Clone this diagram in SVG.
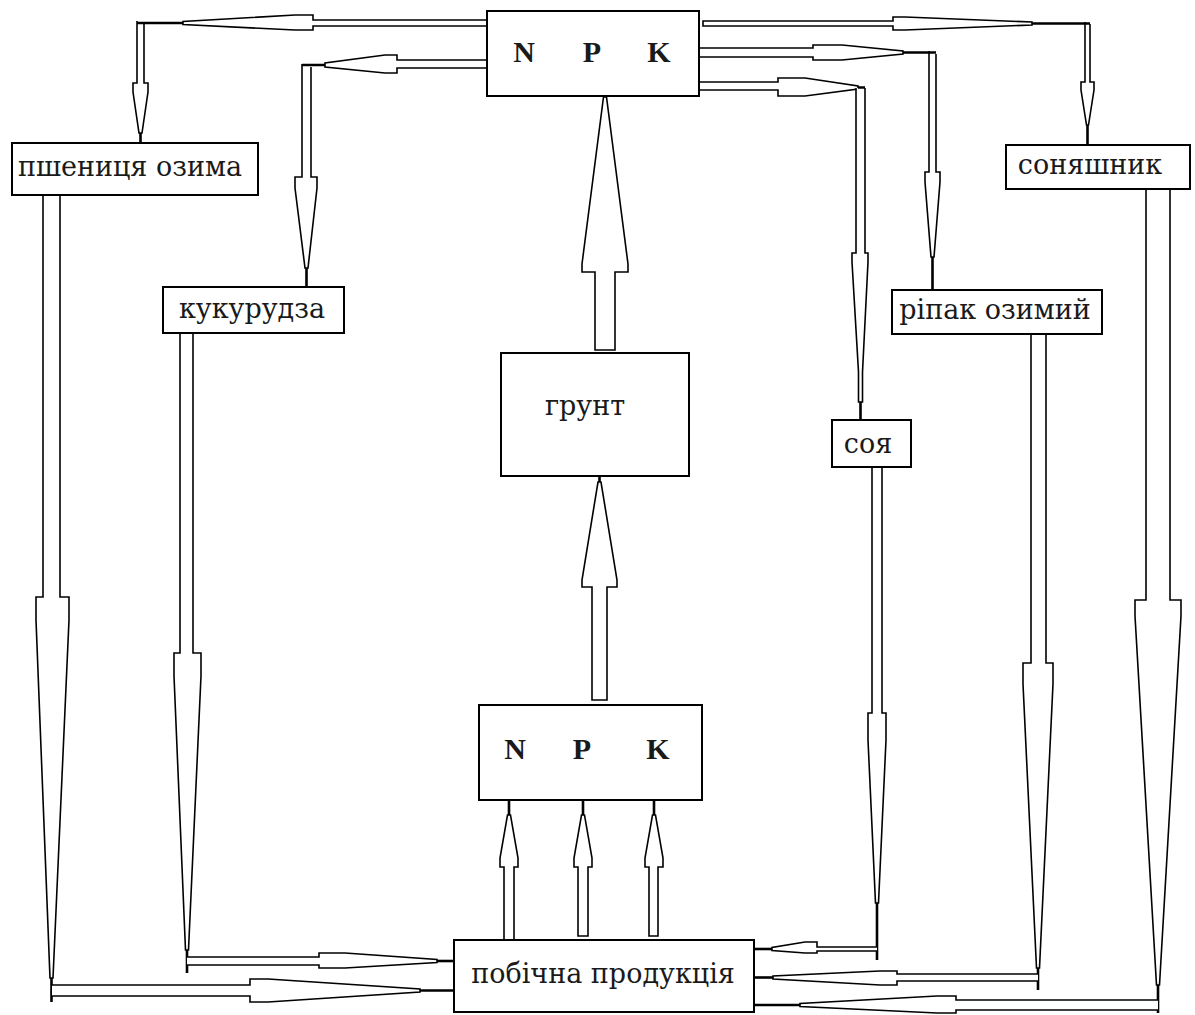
<svg xmlns="http://www.w3.org/2000/svg" width="1195" height="1015" viewBox="0 0 1195 1015">
<style>
.box{fill:#fff;stroke:#000;stroke-width:2}
.ar{fill:#fff;stroke:#000;stroke-width:1.6;stroke-linejoin:miter}
.tl{stroke:#000;stroke-width:2.6;fill:none}
.lb{font-family:"DejaVu Serif","Liberation Serif",serif;font-size:27px;fill:#1a1a1a;text-anchor:middle}
.el{font-family:"Liberation Serif","DejaVu Serif",serif;font-size:30px;font-weight:bold;fill:#1a1a1a;text-anchor:middle}
</style>
<rect width="1195" height="1015" fill="#fff"/>
<g id="connectors">
<!-- NPK top -> пшениця озима -->
<path class="ar" d="M487 20 H313 V15 H295 L183 21.5 V24.5 L295 30 H313 V26 H487"/>
<path class="ar" d="M137 21 V83 H133 V92 L139 133 H142 L148 92 V83 H144 V24"/>
<path class="tl" d="M183 23 H137 M140.5 133 V143"/>
<!-- NPK top -> кукурудза -->
<path class="ar" d="M487 60 H397 V55 H385 L325 63 V67 L385 73 H397 V68 H487"/>
<path class="ar" d="M302 64 V177 H295 V188 L305 268 H308 L317 188 V177 H311 V67"/>
<path class="tl" d="M325 65 H302 M306.5 268 V287"/>
<!-- NPK top -> соняшник -->
<path class="ar" d="M893 21 H703 V26 H893 V30 H905 L1032 25 V22 L905 17 H893 Z"/>
<path class="ar" d="M1085 22 V82 H1081 V90 L1086.5 125 H1088.5 L1094 90 V82 H1090 V24"/>
<path class="tl" d="M1032 23.5 H1090 M1087.5 125 V145"/>
<!-- NPK top -> ріпак озимий -->
<path class="ar" d="M699 48 H813 V45 H842 L903 51 V54 L842 60 H813 V57 H699"/>
<path class="ar" d="M929 51 V172 H925 V182 L931 257 H934 L940 182 V172 H936 V54"/>
<path class="tl" d="M903 52.5 H936 M932.5 257 V290"/>
<!-- NPK top -> соя -->
<path class="ar" d="M699 82 H778 V78 H805 L858 86 V89 L805 96 H778 V90 H699"/>
<path class="ar" d="M856 88 V253 H852 V262 L858.5 372 V402 H862.5 V372 L868 262 V253 H865 V88"/>
<path class="tl" d="M858 87.5 H865 M860.5 402 V420"/>
<!-- грунт -> NPK top -->
<path class="ar" d="M595 350 V272 H582 V264 L603.5 97 H606.5 L628 264 V272 H615 V350 Z"/>
<!-- NPK bottom -> грунт -->
<path class="ar" d="M592 700 V587 H582 V580 L598 482 H601 L617 580 V587 H607 V700 Z"/>
<path class="tl" d="M599.5 482 V476"/>
<!-- побічна продукція -> NPK bottom -->
<path class="ar" d="M504 940 V867 H500 V858 L507.5 815 H510.5 L518 858 V867 H514 V940"/>
<path class="ar" d="M578 936 V867 H574 V858 L581.5 815 H584.5 L592 858 V867 H588 V936 Z"/>
<path class="ar" d="M649 936 V867 H645 V858 L652.5 815 H655.5 L663 858 V867 H658 V936 Z"/>
<path class="tl" d="M509 815 V800 M583 815 V800 M654 815 V800"/>
<!-- пшениця озима -> побічна продукція -->
<path class="ar" d="M43 195 V597 H36 V620 L50 978 H53 L69 620 V597 H60 V195"/>
<path class="tl" d="M51.5 978 V1002"/>
<path class="ar" d="M52 985 H250 V979 H268 L420 989 V992 L268 1002 H250 V996 H52"/>
<path class="tl" d="M420 990.5 H454"/>
<!-- кукурудза -> побічна продукція -->
<path class="ar" d="M180 333 V653 H174 V676 L185.5 950 H188.5 L201 676 V653 H193 V333"/>
<path class="tl" d="M187 950 V973"/>
<path class="ar" d="M187 957 H319 V953 H345 L437 959.5 V962.5 L345 968 H319 V965 H187"/>
<path class="tl" d="M437 961 H454"/>
<!-- соя -> побічна продукція -->
<path class="ar" d="M872 467 V713 H868 V740 L875.5 903 H878.5 L886 740 V713 H882 V467"/>
<path class="tl" d="M877 903 V960"/>
<path class="ar" d="M877 947 H817 V942 H805 L772 947.5 V950.5 L805 953 H817 V951 H877"/>
<path class="tl" d="M772 949 H754"/>
<!-- ріпак озимий -> побічна продукція -->
<path class="ar" d="M1031 334 V663 H1023 V684 L1036.5 968 H1039.5 L1053 684 V663 H1046 V334"/>
<path class="tl" d="M1038 968 V990"/>
<path class="ar" d="M1038 974 H897 V971 H880 L773 976 V979 L880 985 H897 V981 H1038"/>
<path class="tl" d="M773 977.5 H754"/>
<!-- соняшник -> побічна продукція -->
<path class="ar" d="M1146 189 V600 H1135 V616 L1156.5 985 H1159.5 L1181 616 V600 H1170 V189"/>
<path class="tl" d="M1158 985 V1013"/>
<path class="ar" d="M1158 1000 H956 V996 H937 L800 1003.5 V1006.5 L937 1013 H956 V1010 H1158"/>
<path class="tl" d="M800 1005 H754"/>
</g>
<g id="npk-top">
<rect class="box" x="487" y="11" width="212" height="85"/>
<text class="el" x="524" y="62">N</text>
<text class="el" x="592" y="62">P</text>
<text class="el" x="659" y="62">K</text>
</g>
<g id="pshenytsia">
<rect class="box" x="12" y="143" width="246" height="52"/>
<text class="lb" x="130" y="176">пшениця озима</text>
</g>
<g id="kukurudza">
<rect class="box" x="163" y="287" width="181" height="46"/>
<text class="lb" x="252" y="318">кукурудза</text>
</g>
<g id="grunt">
<rect class="box" x="501" y="353" width="188" height="123"/>
<text class="lb" x="585" y="415">грунт</text>
</g>
<g id="soya">
<rect class="box" x="832" y="420" width="79" height="47"/>
<text class="lb" x="868" y="453">соя</text>
</g>
<g id="ripak">
<rect class="box" x="892" y="290" width="210" height="44"/>
<text class="lb" x="995" y="319">ріпак озимий</text>
</g>
<g id="sonyashnyk">
<rect class="box" x="1006" y="145" width="184" height="44"/>
<text class="lb" x="1090" y="174">соняшник</text>
</g>
<g id="npk-bottom">
<rect class="box" x="479" y="705" width="223" height="95"/>
<text class="el" x="515" y="759">N</text>
<text class="el" x="582" y="759">P</text>
<text class="el" x="658" y="759">K</text>
</g>
<g id="pobichna">
<rect class="box" x="454" y="940" width="300" height="72"/>
<text class="lb" x="603" y="983">побічна продукція</text>
</g>
</svg>
